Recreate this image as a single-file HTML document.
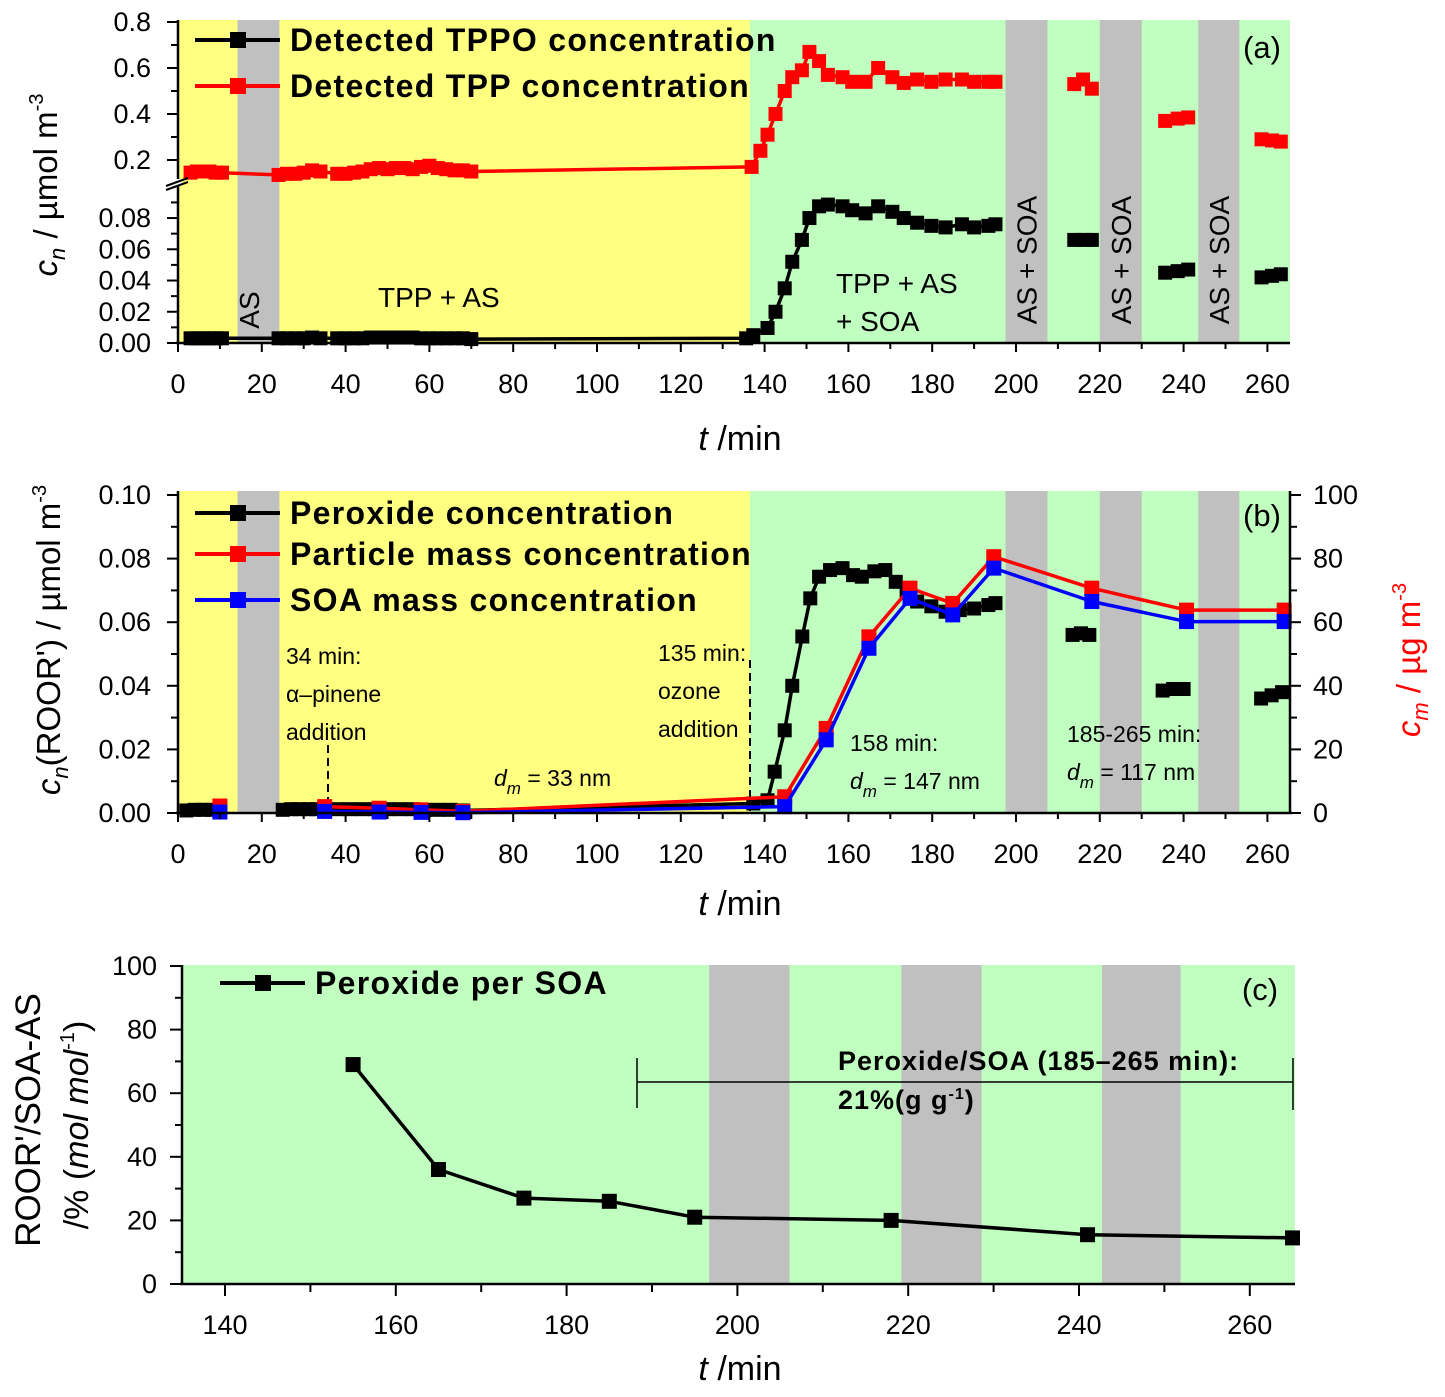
<!DOCTYPE html>
<html><head><meta charset="utf-8">
<style>
html,body{margin:0;padding:0;background:#fff;}
svg{display:block;font-family:"Liberation Sans",Arial,sans-serif;}
</style></head>
<body>
<svg id="fig" width="1445" height="1397" viewBox="0 0 1445 1397" xmlns="http://www.w3.org/2000/svg"></svg>
<script>
// ---------- data ----------
const bandTimes = [[14.2,24.2],[197.5,207.5],[220,230],[243.5,253.3]];
// panel a: TPP (red)
const tppTime = [3,4.5,6,7.5,9,10.5, 24,26,28,30,32,34, 38,40,42,44,46,48,50,52,54,56,58,60,62,64,66,68,70,
 136.9,139,140.7,142.6,144.8,146.6,148.9,150.7,153,155.1,158.6,160.9,164.1,167.1,170.5,173.2,176.4,179.8,183.2,187.1,190,193.4,195.1,
 213.9,216,218.1, 235.6,238.6,241.1, 258.6,261.1,263.2];
const tppValue = [0.145,0.15,0.15,0.15,0.145,0.145, 0.135,0.14,0.14,0.145,0.155,0.15, 0.14,0.14,0.145,0.15,0.16,0.165,0.16,0.165,0.165,0.16,0.17,0.175,0.165,0.16,0.155,0.155,0.15,
 0.17,0.24,0.31,0.40,0.50,0.56,0.59,0.67,0.63,0.57,0.56,0.54,0.54,0.60,0.56,0.535,0.55,0.54,0.55,0.55,0.54,0.54,0.54,
 0.53,0.55,0.51, 0.37,0.38,0.385, 0.29,0.285,0.28];
// panel a: TPPO (black)
const tppoTime = [3,4.5,6,7.5,9,10.5, 24,26,28,30,32,34, 38,40,42,44,46,48,50,52,54,56,58,60,62,64,66,68,70,
 135.6,137.3,140.7,142.6,144.8,146.6,148.9,150.7,153,155.1,158.6,160.9,164.1,167.1,170.5,173.2,176.4,179.8,183.2,187.1,190,193.4,195.1,
 213.9,216,218.1, 235.6,238.6,241.1, 258.6,261.1,263.2];
const tppoValue = [0.003,0.003,0.003,0.003,0.003,0.003, 0.003,0.003,0.003,0.003,0.0035,0.003, 0.003,0.003,0.003,0.003,0.0035,0.0035,0.0035,0.0035,0.0035,0.0035,0.003,0.003,0.003,0.003,0.003,0.003,0.0025,
 0.003,0.005,0.0096,0.02,0.035,0.052,0.066,0.080,0.0875,0.0886,0.0875,0.085,0.083,0.0875,0.084,0.080,0.077,0.075,0.074,0.076,0.074,0.075,0.076,
 0.066,0.066,0.066, 0.045,0.046,0.047, 0.042,0.043,0.044];
// panel b: peroxide (black)
const peroxTime = [2,4,6,8,10, 25,27,29,31,33,35, 38,41,44,47,50,53,56,59,62,65,68,
 137.3,140.7,142.4,144.8,146.6,149,150.9,153,155.6,158.6,161.1,163.2,166.2,168.8,171.3,173.9,176.4,179.8,183.2,186.6,190,193.4,195.1,
 213.5,215.5,217.5, 235,237.5,240, 258.5,261,263.5];
const peroxValue = [0.0008,0.001,0.001,0.001,0.0012, 0.001,0.0012,0.0012,0.0012,0.0012,0.001, 0.0012,0.0012,0.0012,0.0012,0.0012,0.0012,0.0012,0.001,0.001,0.001,0.0008,
 0.003,0.004,0.013,0.026,0.040,0.0555,0.0675,0.0743,0.0764,0.077,0.0748,0.0743,0.076,0.0764,0.0727,0.070,0.0665,0.065,0.0633,0.0638,0.0643,0.0654,0.066,
 0.056,0.0565,0.056, 0.0385,0.039,0.039, 0.036,0.037,0.038];
// panel b: particle mass / SOA mass (µg m-3)
const massTime = [10,35,48,58,68,144.8,154.7,164.9,174.7,184.9,194.7,218.1,240.7,264];
const particleMass = [2.2,2.0,1.5,1.0,0.5,5.1,26.6,55.4,70.7,65.9,80.6,70.7,63.8,63.8];
const soaMass = [0.3,0.5,0.3,0.2,0.1,2.0,23.0,51.8,67.5,62.3,77.0,66.5,60.2,60.2];
// panel c: peroxide per SOA
const ratioTime = [155,165,175,185,195,218,241,265];
const ratioValue = [69,36,27,26,21,20,15.5,14.5];
// tick labels
const ticksA_x = [0,20,40,60,80,100,120,140,160,180,200,220,240,260];
const ticksA_low = [0,0.02,0.04,0.06,0.08];
const ticksA_up = [0.2,0.4,0.6,0.8];
const ticksB_left = [0,0.02,0.04,0.06,0.08,0.10];
const ticksB_right = [0,20,40,60,80,100];
const ticksC_x = [140,160,180,200,220,240,260];
const ticksC_y = [0,20,40,60,80,100];

// ---------- scales ----------
const xA = t => 178 + 4.19*t;
const yA = v => v <= 0.1 ? 343 - 1562*v : 160 - 230*(v-0.2);
const yB = v => 813 - 3180*v;
const yBR = c => 813 - 3.18*c;
const xC = t => 225 + 8.54*(t-140);
const yC = v => 1284 - 3.18*v;

const NS = "http://www.w3.org/2000/svg";
const svg = document.getElementById('fig');
function mk(tag, attrs, parent){
  const e = document.createElementNS(NS, tag);
  for (const k in attrs) e.setAttribute(k, attrs[k]);
  (parent||svg).appendChild(e);
  return e;
}
function txt(s, x, y, size, opts, parent){
  opts = opts||{};
  const e = mk('text', {x:x, y:y, 'font-size':size, fill:opts.fill||'#000', 'text-anchor':opts.anchor||'start'}, parent);
  if (opts.bold) e.setAttribute('font-weight','bold');
  if (opts.italic) e.setAttribute('font-style','italic');
  if (opts.ls) e.setAttribute('letter-spacing', opts.ls);
  if (opts.rot) e.setAttribute('transform','rotate('+opts.rot+' '+x+' '+y+')');
  e.textContent = s;
  return e;
}
function bandBetween(t1,t2,bands){
  return bands.some(b => t1 < b[0] && t2 > b[1]);
}
function drawSeries(times, vals, xf, yf, color, g, msize, bands){
  let seg = [];
  const segs = [];
  for (let i=0;i<times.length;i++){
    if (i>0 && bandBetween(times[i-1], times[i], bands)) { segs.push(seg); seg=[]; }
    seg.push([xf(times[i]), yf(vals[i])]);
  }
  segs.push(seg);
  segs.forEach(s=>{
    if (s.length>1){
      const pl = mk('polyline', {points:s.map(p=>p[0].toFixed(1)+','+p[1].toFixed(1)).join(' '), fill:'none', stroke:color, 'stroke-width':3.5, 'stroke-linejoin':'round'}, g);
      
      
    }
  });
  for (let i=0;i<times.length;i++){
    const r = mk('rect', {x:xf(times[i])-msize/2, y:yf(vals[i])-msize/2, width:msize, height:msize, fill:color}, g);
    
    
  }
}
function legend(x, y, color, label, g){
  mk('line',{x1:x,y1:y,x2:x+85,y2:y,stroke:color,'stroke-width':4},g);
  mk('rect',{x:x+35,y:y-8,width:16,height:16,fill:color},g);
  txt(label, x+95, y+11, 32, {bold:true, ls:'1.3'}, g);
}

// ---------- PANEL A ----------
const gA = mk('g', {});


mk('rect',{x:178,y:20,width:xA(136.5)-178,height:323,fill:'#ffff80'},gA);
mk('rect',{x:xA(136.5),y:20,width:1290-xA(136.5),height:323,fill:'#c0ffc0'},gA);
bandTimes.forEach(b=>{
  const r = mk('rect',{x:xA(b[0]),y:20,width:xA(b[1])-xA(b[0]),height:323,fill:'#c0c0c0'},gA);
  
  
});
drawSeries(tppTime, tppValue, xA, yA, '#ff0000', gA, 14, bandTimes);
drawSeries(tppoTime, tppoValue, xA, yA, '#000000', gA, 14, bandTimes);
mk('line',{x1:178,y1:20,x2:178,y2:344,stroke:'#000','stroke-width':2.5},gA);
mk('line',{x1:176,y1:343,x2:1290,y2:343,stroke:'#000','stroke-width':2.5},gA);
mk('rect',{x:168,y:179,width:14,height:7,fill:'#fff'},gA);
mk('line',{x1:166,y1:186,x2:188,y2:178,stroke:'#000','stroke-width':2},gA);
mk('line',{x1:166,y1:190,x2:188,y2:182,stroke:'#000','stroke-width':2},gA);
for (let t=0;t<=265;t+=10){
  mk('line',{x1:xA(t),y1:343,x2:xA(t),y2:t%20===0?352:349,stroke:'#000','stroke-width':2},gA);
}
ticksA_x.forEach(t=>txt(String(t), xA(t), 393, 27, {anchor:'middle'}, gA));
for (let i=0; i<=9; i++){ const v=i*0.01; mk('line',{x1:i%2===0?167:171,y1:yA(v),x2:178,y2:yA(v),stroke:'#000','stroke-width':2},gA); }
for (let i=2; i<=8; i++){ const v=i*0.1; mk('line',{x1:i%2===0?167:171,y1:yA(v),x2:178,y2:yA(v),stroke:'#000','stroke-width':2},gA); }
ticksA_low.forEach(v=>txt(v.toFixed(2), 151, yA(v)+9, 27, {anchor:'end'}, gA));
ticksA_up.forEach(v=>txt(v.toFixed(1), 151, yA(v)+9, 27, {anchor:'end'}, gA));
const tA = txt('', 0,0,33,{},gA); tA.setAttribute('transform','translate(57 185) rotate(-90)'); tA.setAttribute('text-anchor','middle');
tA.innerHTML = '<tspan font-style="italic">c</tspan><tspan font-style="italic" font-size="22" dy="8">n</tspan><tspan dy="-8"> / µmol m</tspan><tspan font-size="20" dy="-14">-3</tspan>';

const xtA = txt('',740,450,34,{anchor:'middle'},gA);
xtA.innerHTML = '<tspan font-style="italic">t</tspan> /min';
legend(195, 40, '#000', 'Detected TPPO concentration', gA);
legend(195, 86, '#ff0000', 'Detected TPP concentration', gA);
txt('(a)', 1262, 58, 31, {anchor:'middle'}, gA);
txt('TPP + AS', 378, 307, 28, {}, gA);
txt('TPP + AS', 836, 293, 28, {}, gA);
txt('+ SOA', 836, 331, 28, {}, gA);
txt('AS', 259, 310, 28, {anchor:'middle', rot:-90}, gA);
[202.5, 225, 248.4].forEach(t=>txt('AS + SOA', xA(t)+10, 260, 28, {anchor:'middle', rot:-90}, gA));

// ---------- PANEL B ----------
const gB = mk('g', {});


mk('rect',{x:178,y:491,width:xA(136.5)-178,height:322,fill:'#ffff80'},gB);
mk('rect',{x:xA(136.5),y:491,width:1290-xA(136.5),height:322,fill:'#c0ffc0'},gB);
bandTimes.forEach(b=>{
  const r = mk('rect',{x:xA(b[0]),y:491,width:xA(b[1])-xA(b[0]),height:322,fill:'#c0c0c0'},gB);
  
  
});
mk('line',{x1:328,y1:745,x2:328,y2:812,stroke:'#000','stroke-width':2,'stroke-dasharray':'8,5'},gB);
mk('line',{x1:750,y1:660,x2:750,y2:812,stroke:'#000','stroke-width':2,'stroke-dasharray':'8,5'},gB);
drawSeries(peroxTime, peroxValue, xA, yB, '#000000', gB, 14, bandTimes);
drawSeries(massTime, particleMass, xA, yBR, '#ff0000', gB, 15, bandTimes.slice(0,1));
drawSeries(massTime, soaMass, xA, yBR, '#0000ff', gB, 15, bandTimes.slice(0,1));
mk('line',{x1:178,y1:491,x2:178,y2:814,stroke:'#000','stroke-width':2.5},gB);
mk('line',{x1:1290,y1:491,x2:1290,y2:814,stroke:'#000','stroke-width':2.5},gB);
mk('line',{x1:176,y1:813,x2:1292,y2:813,stroke:'#000','stroke-width':2.5},gB);
for (let t=0;t<=265;t+=10){
  mk('line',{x1:xA(t),y1:813,x2:xA(t),y2:t%20===0?822:819,stroke:'#000','stroke-width':2},gB);
}
ticksA_x.forEach(t=>txt(String(t), xA(t), 863, 27, {anchor:'middle'}, gB));
for (let i=0;i<=10;i++){
  const v=i*0.01;
  mk('line',{x1:i%2===0?167:171,y1:yB(v),x2:178,y2:yB(v),stroke:'#000','stroke-width':2},gB);
  mk('line',{x1:1290,y1:yB(v),x2:i%2===0?1301:1297,y2:yB(v),stroke:'#000','stroke-width':2},gB);
}
ticksB_left.forEach(v=>txt(v.toFixed(2), 151, yB(v)+9, 27, {anchor:'end'}, gB));
ticksB_right.forEach(c=>txt(String(c), 1313, yBR(c)+9, 27, {}, gB));
const tB = txt('',0,0,33,{},gB); tB.setAttribute('transform','translate(60 640) rotate(-90)'); tB.setAttribute('text-anchor','middle');
tB.innerHTML = '<tspan font-style="italic">c</tspan><tspan font-style="italic" font-size="22" dy="8">n</tspan><tspan dy="-8">(ROOR\') / µmol m</tspan><tspan font-size="20" dy="-14">-3</tspan>';

const tBR = txt('',0,0,33,{fill:'#ff0000'},gB); tBR.setAttribute('transform','translate(1420 660) rotate(-90)'); tBR.setAttribute('text-anchor','middle');
tBR.innerHTML = '<tspan font-style="italic">c</tspan><tspan font-style="italic" font-size="22" dy="8">m</tspan><tspan dy="-8"> / µg m</tspan><tspan font-size="20" dy="-14">-3</tspan>';

const xtB = txt('',740,915,34,{anchor:'middle'},gB);
xtB.innerHTML = '<tspan font-style="italic">t</tspan> /min';
legend(195, 513, '#000', 'Peroxide concentration', gB);
legend(195, 554, '#ff0000', 'Particle mass concentration', gB);
legend(195, 600, '#0000ff', 'SOA mass concentration', gB);
txt('(b)', 1262, 526, 31, {anchor:'middle'}, gB);
txt('34 min:', 286, 664, 23, {}, gB);
txt('α–pinene', 286, 702, 23, {}, gB);
txt('addition', 286, 740, 23, {}, gB);
txt('135 min:', 658, 661, 23, {}, gB);
txt('ozone', 658, 699, 23, {}, gB);
txt('addition', 658, 737, 23, {}, gB);
function dmLabel(x,y,val){
  const e = txt('',x,y,23,{},gB);
  e.innerHTML = '<tspan font-style="italic">d</tspan><tspan font-style="italic" font-size="17" dy="8">m</tspan><tspan dy="-8"> = '+val+' nm</tspan>';
}
dmLabel(494, 786, '33');
txt('158 min:', 850, 751, 23, {}, gB);
dmLabel(850, 789, '147');
txt('185-265 min:', 1067, 742, 23, {}, gB);
dmLabel(1067, 780, '117');

// ---------- PANEL C ----------
const gC = mk('g', {});


mk('rect',{x:182,y:965,width:1113,height:319,fill:'#c0ffc0'},gC);
bandTimes.slice(1).forEach(b=>{
  const r = mk('rect',{x:xC(b[0]-0.8),y:965,width:xC(b[1]-0.6)-xC(b[0]),height:319,fill:'#c0c0c0'},gC);
  
  
});
drawSeries(ratioTime, ratioValue, xC, yC, '#000000', gC, 15, []);
mk('line',{x1:182,y1:965,x2:182,y2:1285,stroke:'#000','stroke-width':2.5},gC);
mk('line',{x1:180,y1:1284,x2:1295,y2:1284,stroke:'#000','stroke-width':2.5},gC);
for (let t=140;t<=265;t+=10){
  mk('line',{x1:xC(t),y1:1284,x2:xC(t),y2:t%20===0?1296:1292,stroke:'#000','stroke-width':2},gC);
}
ticksC_x.forEach(t=>txt(String(t), xC(t), 1334, 27, {anchor:'middle'}, gC));
for (let v=0; v<=100; v+=10){
  mk('line',{x1:v%20===0?170:175,y1:yC(v),x2:182,y2:yC(v),stroke:'#000','stroke-width':2},gC);
}
ticksC_y.forEach(v=>txt(String(v), 157, yC(v)+9, 27, {anchor:'end'}, gC));
txt('ROOR\'/SOA-AS', 40, 1120, 35, {anchor:'middle', rot:-90}, gC);
const tC2 = txt('',0,0,34,{},gC); tC2.setAttribute('transform','translate(88 1125) rotate(-90)'); tC2.setAttribute('text-anchor','middle');
tC2.innerHTML = '/% (<tspan font-style="italic">mol mol</tspan><tspan font-size="20" dy="-14">-1</tspan><tspan dy="14">)</tspan>';
const xtC = txt('',740,1380,34,{anchor:'middle'},gC);
xtC.innerHTML = '<tspan font-style="italic">t</tspan> /min';
legend(220, 983, '#000', 'Peroxide per SOA', gC);
txt('(c)', 1260, 1000, 31, {anchor:'middle'}, gC);
mk('line',{x1:637,y1:1082,x2:1293,y2:1082,stroke:'#000','stroke-width':1.5},gC);
mk('line',{x1:637,y1:1058,x2:637,y2:1108,stroke:'#000','stroke-width':1.5},gC);
mk('line',{x1:1293,y1:1058,x2:1293,y2:1110,stroke:'#000','stroke-width':1.5},gC);
txt('Peroxide/SOA (185–265 min):', 838, 1070, 27, {bold:true, ls:'1'}, gC);
const pc = txt('',838,1109,27,{bold:true, ls:'1'},gC);
pc.innerHTML = '21%(g g<tspan font-size="16" dy="-10">-1</tspan><tspan dy="10">)</tspan>';
</script>
</body></html>
